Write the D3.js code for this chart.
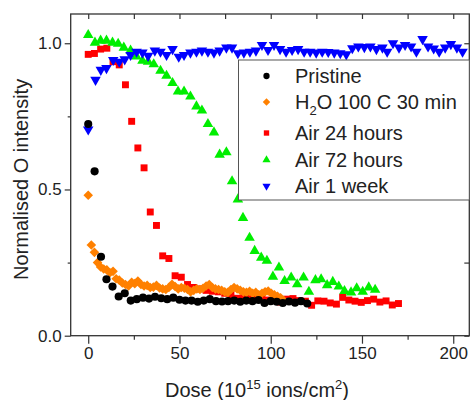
<!DOCTYPE html>
<head>
    <meta charset="utf-8">
    <style>
        body { margin: 0; background: #ffffff; }
        text { font-family: "Liberation Sans", Arial, sans-serif; fill: #222; }
    </style>
    <script src="https://d3js.org/d3.v7.min.js"></script>
</head>
<body>
<div id="chart"></div>
<script>

    // dose (1e15 ions/cm2), normalised O intensity
    var pristine = [
        [0, 0.724], [3.5, 0.562], [7, 0.27], [10, 0.193], [13.3, 0.168], [16.7, 0.134],
        [20, 0.145], [23.3, 0.12], [26.6, 0.125], [30, 0.13], [33.3, 0.127], [36.6, 0.133],
        [40, 0.128], [43.3, 0.125], [46.6, 0.13], [50, 0.123], [53.3, 0.12], [56.6, 0.12],
        [60, 0.116], [63.3, 0.12], [66.6, 0.125], [70, 0.118], [73.3, 0.117], [76.6, 0.118],
        [80, 0.12], [83.3, 0.116], [86.6, 0.12], [90, 0.118], [93.3, 0.122], [96.6, 0.112],
        [100, 0.118], [103.3, 0.116], [106.6, 0.112], [110, 0.117], [113.3, 0.113],
        [116.6, 0.118], [120, 0.11]
    ];

    var water = [
        [0, 0.48], [1.7, 0.31], [3.4, 0.285], [5.1, 0.25], [6.8, 0.235], [8.5, 0.228],
        [10.2, 0.225], [11.9, 0.215], [13.6, 0.22], [15.3, 0.195], [17, 0.19], [18.7, 0.18],
        [20.4, 0.175], [22.1, 0.17], [23.8, 0.183], [25.5, 0.178], [27.2, 0.187], [28.9, 0.175],
        [30.6, 0.17], [32.3, 0.172], [34, 0.165], [35.7, 0.166], [37.4, 0.172], [39.1, 0.163],
        [40.8, 0.16], [42.5, 0.158], [44.2, 0.165], [45.9, 0.176], [47.6, 0.168], [49.3, 0.16],
        [51, 0.165], [52.7, 0.162], [54.4, 0.158], [56.1, 0.15], [57.8, 0.155], [59.5, 0.16],
        [61.2, 0.158], [62.9, 0.162], [64.6, 0.17], [66.3, 0.175], [68, 0.165], [69.7, 0.16],
        [71.4, 0.158], [73.1, 0.155], [74.8, 0.15], [76.5, 0.148], [78.2, 0.158], [79.9, 0.165],
        [81.6, 0.16], [83.3, 0.155], [85, 0.15], [86.7, 0.148], [88.4, 0.152], [90.1, 0.145],
        [91.8, 0.148], [93.5, 0.14], [95.2, 0.145], [96.9, 0.15], [98.6, 0.153], [100.3, 0.145],
        [102, 0.14], [103.7, 0.135], [105.4, 0.13], [107.1, 0.12]
    ];

    var air24 = [
        [0, 0.962], [3.4, 0.965], [6.8, 0.98], [10.2, 0.983], [13.6, 0.937], [17, 0.926],
        [20.4, 0.858], [23.8, 0.733], [27.2, 0.642], [30.6, 0.574], [34, 0.423], [37.4, 0.377],
        [40.8, 0.273], [44.2, 0.264], [47.6, 0.205], [51, 0.2], [54.4, 0.175], [57.8, 0.165],
        [61.2, 0.16], [64.6, 0.155], [68, 0.152], [71.4, 0.15], [74.8, 0.145], [78.2, 0.14],
        [81.6, 0.128], [85, 0.13], [88.4, 0.132], [91.8, 0.128], [95.2, 0.125], [98.6, 0.122],
        [102, 0.12], [105.4, 0.115], [108.8, 0.125], [112.2, 0.127], [115.6, 0.12], [119, 0.118],
        [122.4, 0.104], [125.8, 0.119], [129.2, 0.118], [132.6, 0.112], [136, 0.108],
        [139.4, 0.131], [142.8, 0.122], [146.2, 0.118], [149.6, 0.114], [153, 0.12],
        [156.4, 0.125], [159.8, 0.115], [163.2, 0.119], [166.6, 0.105], [170, 0.11]
    ];

    var air72 = [
        [0, 1.028], [3.7, 1.002], [6.8, 1.009], [10, 1.009], [13.3, 1.002], [16.4, 0.998],
        [19.5, 0.985], [23.2, 0.975], [26.4, 0.955], [29.7, 0.94], [32.8, 0.937], [35.9, 0.928],
        [39.6, 0.906], [42.9, 0.889], [46.2, 0.864], [49.2, 0.835], [52.5, 0.835], [56, 0.818],
        [59.3, 0.784], [62.3, 0.77], [65.6, 0.724], [68.9, 0.695], [72, 0.619], [75.7, 0.627],
        [78.8, 0.528], [82, 0.466], [84.8, 0.403], [88.4, 0.335], [91.2, 0.29], [94.8, 0.267],
        [97.9, 0.256], [101.2, 0.202], [104.5, 0.233], [107.6, 0.187], [111.2, 0.199],
        [114.5, 0.176], [118, 0.199], [120.9, 0.15], [124.5, 0.19], [127.6, 0.193],
        [130.9, 0.173], [134, 0.184], [137.3, 0.168], [140.4, 0.153], [144, 0.148],
        [147.1, 0.162], [150.4, 0.15], [153.7, 0.165], [157.2, 0.157]
    ];

    var air1w = [
        [0, 0.705], [4, 0.875], [6.9, 0.909], [10, 0.915], [13.7, 0.943], [17, 0.937],
        [20, 0.945], [23.2, 0.96], [26.5, 0.971], [29.7, 0.968], [32.8, 0.957], [36.5, 0.975],
        [39.6, 0.971], [42.9, 0.96], [46.2, 0.98], [49.6, 0.954], [52.5, 0.96], [56, 0.968],
        [59.3, 0.971], [62.3, 0.975], [65.6, 0.971], [68.9, 0.968], [72, 0.975], [75.7, 0.985],
        [78.8, 0.985], [82, 0.966], [85.3, 0.968], [88.6, 0.971], [91.9, 0.975], [95.2, 0.994],
        [98.5, 0.977], [101.8, 0.994], [105.1, 0.98], [108.4, 0.971], [111.7, 0.977],
        [115, 0.98], [118.3, 0.971], [121.6, 0.971], [124.9, 0.968], [128.2, 0.971],
        [131.5, 0.97], [134.8, 0.968], [138.1, 0.966], [141.4, 0.962], [144.7, 0.983],
        [148, 0.989], [151.3, 0.987], [154.6, 0.989], [157.9, 0.98], [161.2, 0.985],
        [163.8, 0.971], [167, 1.0], [170.3, 0.985], [173.6, 0.994], [176.9, 0.989],
        [179.8, 0.971], [183.2, 1.014], [186.2, 0.989], [189.3, 0.982], [192.3, 0.971],
        [195.6, 0.985], [198.7, 0.997], [202, 0.985], [205.1, 0.971]
    ];

    var seriesNames = ["Pristine", "H2O 100 C 30 min", "Air 24 hours", "Air 72 hours", "Air 1 week"];
    var xTicks = [0, 50, 100, 150, 200];
    var xMinor = [25, 75, 125, 175];
    var yTicks = [0, 0.5, 1.0];
    var yMinor = [0.25, 0.75];

    var W = 471, H = 400;

    var svg = d3.select("#chart").append("svg")
        .attr("width", W)
        .attr("height", H);

    var x = d3.scaleLinear().domain([-9.6, 208.8]).range([70.7, 469.3]);
    var y = d3.scaleLinear().domain([0, 1.1]).range([335.7, 14]);

    var axCol = "#333333";

    // markers
    var series = [
        { name: seriesNames[2], data: air24, col: "#ff0000", sym: d3.symbolSquare, size: 48, rot: 0 },
        { name: seriesNames[3], data: air72, col: "#00ee00", sym: d3.symbolTriangle, size: 48, rot: 0 },
        { name: seriesNames[4], data: air1w, col: "#0000ff", sym: d3.symbolTriangle, size: 48, rot: 180 },
        { name: seriesNames[1], data: water, col: "#ff8000", sym: d3.symbolSquare, size: 46, rot: 45 },
        { name: seriesNames[0], data: pristine, col: "#000000", sym: d3.symbolCircle, size: 52, rot: 0 }
    ];

    var plot = svg.append("g");

    series.forEach(function(s) {
        plot.append("g")
            .selectAll("path")
            .data(s.data)
            .enter()
            .append("path")
            .attr("d", d3.symbol().type(s.sym).size(s.size))
            .attr("fill", s.col)
            .attr("transform", d => "translate(" + x(d[0]) + "," + y(d[1]) + ") rotate(" + s.rot + ")");
    });

    // frame + axes
    svg.append("g")
        .attr("transform", "translate(0," + y(0) + ")")
        .call(d3.axisBottom(x).tickValues(xTicks).tickSize(8).tickSizeOuter(0).tickPadding(3));
    svg.append("g")
        .attr("transform", "translate(0," + y(0) + ")")
        .call(d3.axisBottom(x).tickValues(xMinor).tickSize(4).tickSizeOuter(0).tickFormat(""));
    svg.append("g")
        .attr("transform", "translate(0," + y(1.1) + ")")
        .call(d3.axisBottom(x).tickValues(xTicks.concat(xMinor)).tickSize(5).tickSizeOuter(0).tickFormat(""));

    svg.append("g")
        .attr("transform", "translate(" + x(-9.6) + ",0)")
        .call(d3.axisLeft(y).tickValues(yTicks).tickSize(6).tickSizeOuter(0).tickPadding(3).tickFormat(d3.format(".1f")));
    svg.append("g")
        .attr("transform", "translate(" + x(-9.6) + ",0)")
        .call(d3.axisLeft(y).tickValues(yMinor).tickSize(3).tickSizeOuter(0).tickFormat(""));
    svg.append("g")
        .attr("transform", "translate(" + x(208.8) + ",0)")
        .call(d3.axisLeft(y).tickValues(yTicks.concat(yMinor)).tickSize(5).tickSizeOuter(0).tickFormat(""));

    svg.selectAll(".domain").attr("stroke", "none");
    svg.selectAll(".tick line").attr("stroke", axCol).attr("stroke-width", 1.2);
    svg.selectAll(".tick text")
        .style("font-family", "'Liberation Sans', Arial, sans-serif")
        .style("font-size", "17px")
        .attr("fill", "#222");

    svg.append("rect")
        .attr("x", x(-9.6))
        .attr("y", y(1.1))
        .attr("width", x(208.8) - x(-9.6))
        .attr("height", y(0) - y(1.1))
        .attr("fill", "none")
        .attr("stroke", axCol)
        .attr("stroke-width", 1.3);

    // legend
    var leg = svg.append("g");
    leg.append("rect")
        .attr("x", 238.5)
        .attr("y", 60)
        .attr("width", x(208.8) - 238.5)
        .attr("height", 140)
        .attr("fill", "#ffffff")
        .attr("stroke", "#555555")
        .attr("stroke-width", 1);

    var legRows = [
        { s: series[4], cy: 76, by: 83 },
        { s: series[3], cy: 102, by: 109 },
        { s: series[0], cy: 133, by: 140 },
        { s: series[1], cy: 160, by: 167 },
        { s: series[2], cy: 186, by: 192.5 }
    ];

    legRows.forEach(function(r) {
        leg.append("path")
            .attr("d", d3.symbol().type(r.s.sym).size(r.s.size * 0.6))
            .attr("fill", r.s.col)
            .attr("transform", "translate(266.5," + r.cy + ") rotate(" + r.s.rot + ")");

        var t = leg.append("text")
            .attr("x", 295)
            .attr("y", r.by)
            .style("font-size", "20px");

        if (r.s.name.indexOf("H2O") == 0) {
            t.append("tspan").text("H");
            t.append("tspan").attr("dy", 6).style("font-size", "13px").text("2");
            t.append("tspan").attr("dy", -6).text("O 100 C 30 min");
        } else {
            t.text(r.s.name);
        }
    });

    // axis titles
    var xt = svg.append("text")
        .attr("x", 165)
        .attr("y", 397)
        .style("font-size", "20px");
    xt.append("tspan").text("Dose (10");
    xt.append("tspan").attr("dy", -8).style("font-size", "13px").text("15");
    xt.append("tspan").attr("dy", 8).text(" ions/cm");
    xt.append("tspan").attr("dy", -8).style("font-size", "13px").text("2");
    xt.append("tspan").attr("dy", 8).text(")");

    svg.append("text")
        .attr("transform", "translate(27.5,280) rotate(-90)")
        .attr("text-anchor", "start")
        .style("font-size", "20px")
        .text("Normalised O intensity");

</script>
</body>
